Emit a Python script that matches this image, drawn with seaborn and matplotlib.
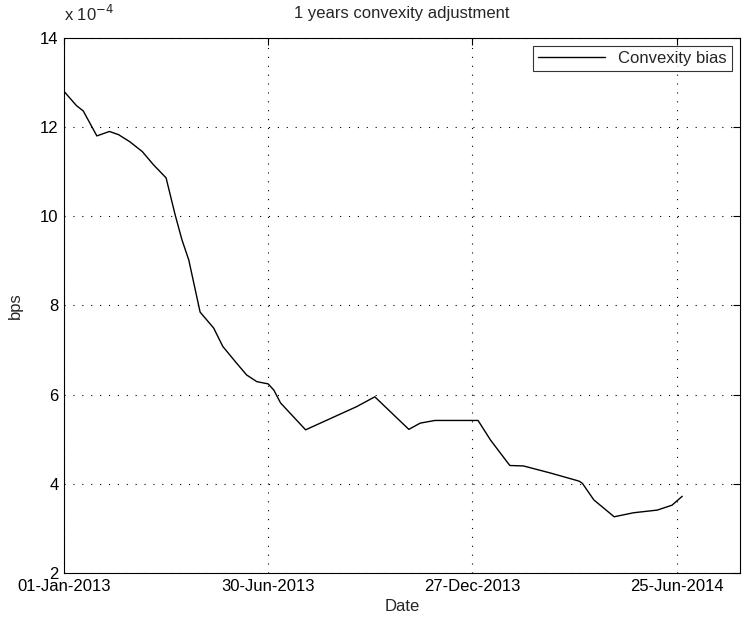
import matplotlib
matplotlib.use("Agg")
import matplotlib.pyplot as plt
import seaborn as sns
import pandas as pd

# data (values in units of 1e-4)
dates = ["2013-01-01", "2013-01-12", "2013-01-18", "2013-01-30", "2013-02-10",
         "2013-02-18", "2013-02-28", "2013-03-11", "2013-03-21", "2013-04-01",
         "2013-04-09", "2013-04-15", "2013-04-21", "2013-05-01", "2013-05-13",
         "2013-05-21", "2013-06-01", "2013-06-11", "2013-06-20", "2013-06-30",
         "2013-07-05", "2013-07-11", "2013-08-02", "2013-09-16", "2013-10-02",
         "2013-11-01", "2013-11-11", "2013-11-24", "2014-01-01", "2014-01-12",
         "2014-01-29", "2014-02-10", "2014-03-06", "2014-03-31", "2014-04-03",
         "2014-04-13", "2014-05-01", "2014-05-18", "2014-06-08", "2014-06-21",
         "2014-06-30"]
bias = [12.80, 12.48, 12.36, 11.80, 11.90,
        11.83, 11.67, 11.45, 11.15, 10.86,
        10.03, 9.47, 9.02, 7.85, 7.49,
        7.08, 6.74, 6.44, 6.29, 6.24,
        6.10, 5.81, 5.21, 5.73, 5.95,
        5.22, 5.36, 5.42, 5.42, 4.98,
        4.41, 4.40, 4.24, 4.06, 4.01,
        3.64, 3.26, 3.35, 3.41, 3.52,
        3.72]
tick_dates = ["2013-01-01", "2013-06-30", "2013-12-27", "2014-06-25"]
tick_labels = ["01-Jan-2013", "30-Jun-2013", "27-Dec-2013", "25-Jun-2014"]
y_ticks = [2, 4, 6, 8, 10, 12, 14]

df = pd.DataFrame({"Date": pd.to_datetime(dates), "bias": bias})

sns.set_style("white")
plt.rcParams['font.family'] = ['Liberation Sans', 'DejaVu Sans']

fig = plt.figure(figsize=(7.43, 6.23), dpi=100)
ax = fig.add_axes([0.0861, 0.0803, 0.910, 0.859])

sns.lineplot(data=df, x="Date", y="bias", ax=ax, color="black", linewidth=1.0,
             label="Convexity bias")

ax.set_xlim(pd.Timestamp("2013-01-01"), pd.Timestamp("2014-08-20"))
ax.set_ylim(2, 14)
ax.set_xticks(pd.to_datetime(tick_dates))
ax.set_xticklabels(tick_labels)
ax.set_yticks(y_ticks)

ax.grid(True, color="black", linestyle=(0, (1, 7)), linewidth=0.8)
ax.tick_params(direction="in", length=5, width=0.8, top=True, right=True,
               labelsize=12, colors="black", pad=4)
for sp in ax.spines.values():
    sp.set_color("black")
    sp.set_linewidth(0.8)

ax.set_xlabel("Date", fontsize=12, labelpad=4)
ax.set_ylabel("bps", fontsize=12, labelpad=12)
ax.set_title("1 years convexity adjustment", fontsize=12, pad=14)
ax.text(0.0, 1.025, r"x 10$^{-4}$", transform=ax.transAxes, fontsize=12,
        ha="left", va="bottom")

leg = ax.legend(loc="upper right", fontsize=12, frameon=True, fancybox=False,
                handlelength=4.0, borderaxespad=0.5, borderpad=0.3)
leg.get_frame().set_edgecolor("black")
leg.get_frame().set_linewidth(0.8)

fig.savefig("out.png", dpi=100)
